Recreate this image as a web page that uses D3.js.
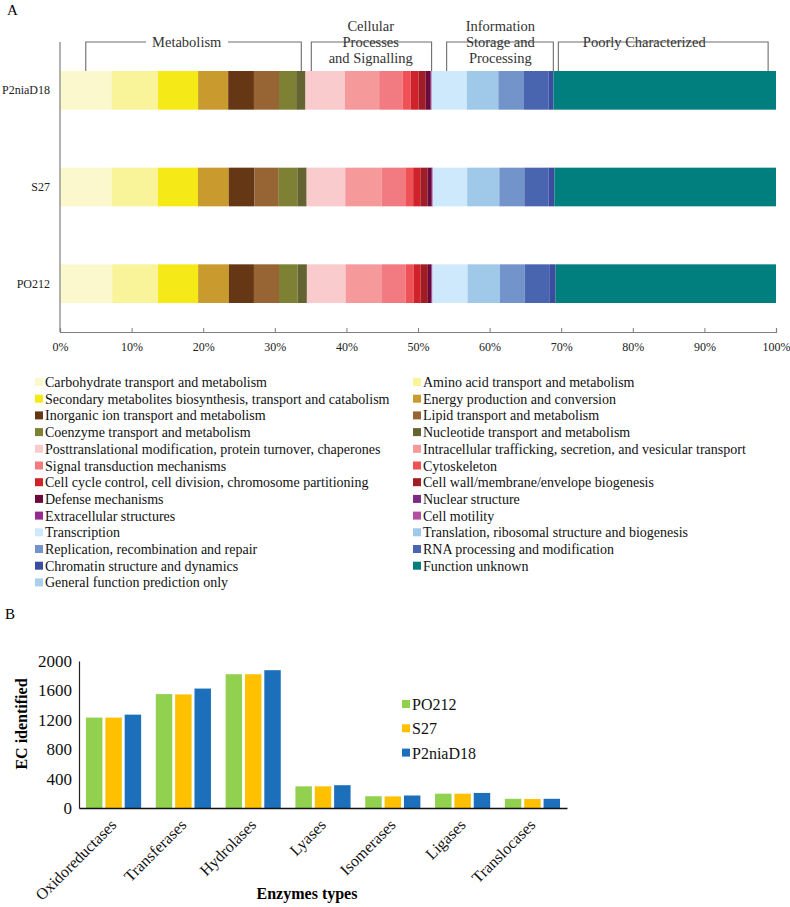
<!doctype html>
<html>
<head>
<script src="https://cdn.jsdelivr.net/npm/d3@7"></script>
<style>
  body { margin: 0; background: #fff; }
  svg, svg text { font-family: "Liberation Serif", "Tinos", "Times New Roman", serif; }
</style>
</head>
<body>
<svg id="chart" width="790" height="907"></svg>
<script>
// ---------- panel A data (percent of COG annotated genes) ----------
var strains = ["P2niaD18", "S27", "PO212"];
var cogCats = ["Carbohydrate transport and metabolism", "Amino acid transport and metabolism",
  "Secondary metabolites biosynthesis, transport and catabolism", "Energy production and conversion",
  "Inorganic ion transport and metabolism", "Lipid transport and metabolism",
  "Coenzyme transport and metabolism", "Nucleotide transport and metabolism",
  "Posttranslational modification, protein turnover, chaperones",
  "Intracellular trafficking, secretion, and vesicular transport",
  "Signal transduction mechanisms", "Cytoskeleton",
  "Cell cycle control, cell division, chromosome partitioning", "Cell wall/membrane/envelope biogenesis",
  "Defense mechanisms", "Nuclear structure", "Extracellular structures", "Cell motility",
  "Transcription", "Translation, ribosomal structure and biogenesis",
  "Replication, recombination and repair", "RNA processing and modification",
  "Chromatin structure and dynamics", "Function unknown", "General function prediction only"];
var cogColors = ["#fcf8cd", "#f9f399", "#f5ea17", "#c99a2e", "#653714", "#976433", "#7e8034", "#646432",
  "#f9cbcc", "#f5999b", "#f27a81", "#f05156", "#d0222a", "#a01d25", "#6b0a3c", "#7b2a86", "#952a90", "#b44ea3",
  "#cde9fb", "#a0c8e9", "#7294cb", "#4a65b0", "#3a4d9f", "#007f7e", "#a9cfee"];
var pctP2niaD18 = [7.2, 6.5, 5.6, 4.2, 3.6, 3.5, 2.4, 1.3, 5.5, 4.8, 3.3, 1.1, 1.1, 1.0, 0.7, 0.05, 0.05, 0.05, 4.9, 4.4, 3.5, 3.5, 0.7, 31.1, 0];
var pctS27      = [7.2, 6.5, 5.6, 4.3, 3.6, 3.4, 2.6, 1.3, 5.4, 5.1, 3.3, 1.1, 1.0, 1.0, 0.6, 0.05, 0.05, 0.05, 4.8, 4.5, 3.5, 3.4, 0.8, 31.0, 0];
var pctPO212    = [7.3, 6.4, 5.6, 4.3, 3.5, 3.5, 2.6, 1.3, 5.4, 5.0, 3.4, 1.1, 1.0, 1.0, 0.5, 0.05, 0.05, 0.05, 4.9, 4.5, 3.5, 3.5, 0.8, 30.8, 0];
var xTicksA = [0, 0.1, 0.2, 0.3, 0.4, 0.5, 0.6, 0.7, 0.8, 0.9, 1];

// bracket groups: start/end and label position in percent
var groups = [
  {lines: ["Metabolism"], from: 3.6, to: 33.7, at: 17.7},
  {lines: ["Cellular", "Processes", "and Signalling"], from: 35.1, to: 51.9, at: 43.4},
  {lines: ["Information", "Storage and", "Processing"], from: 54.0, to: 68.9, at: 61.5},
  {lines: ["Poorly Characterized"], from: 69.6, to: 98.9, at: 81.6}
];

// ---------- panel B data ----------
var enzymes = ["Oxidoreductases", "Transferases", "Hydrolases", "Lyases", "Isomerases", "Ligases", "Translocases"];
var ecStrains = ["PO212", "S27", "P2niaD18"];
var ecColors = ["#92d050", "#ffc000", "#1b6fbb"];
var ecPO212    = [1230, 1550, 1820, 295, 160, 195, 125];
var ecS27      = [1230, 1545, 1820, 295, 158, 195, 122];
var ecP2niaD18 = [1270, 1625, 1875, 310, 170, 205, 125];
var yTicksB = [0, 400, 800, 1200, 1600, 2000];

var FONT = "Liberation Serif, Tinos, Times New Roman, serif";
var svg = d3.select("#chart");

// ================= panel A =================
svg.append("text").attr("x", 7).attr("y", 15).attr("font-size", 15).text("A");

var rowsA = strains.map(function(s, i) {
  var vals = [pctP2niaD18, pctS27, pctPO212][i];
  var o = {strain: s};
  cogCats.forEach(function(c, j) { o[c] = vals[j]; });
  return o;
});
var stack = d3.stack().keys(cogCats).offset(d3.stackOffsetExpand);
var series = stack(rowsA);

var xA = d3.scaleLinear().domain([0, 1]).range([60, 776]);
var yA = d3.scaleBand().domain(strains).range([42, 332]).paddingInner(0.6).paddingOuter(0.3);

var gA = svg.append("g");
gA.selectAll("g.ser").data(series).enter().append("g")
  .attr("fill", function(d, i) { return cogColors[i]; })
  .selectAll("rect").data(function(d) { return d; }).enter().append("rect")
  .attr("x", function(d) { return xA(d[0]); })
  .attr("width", function(d) { return Math.max(0, xA(d[1]) - xA(d[0])); })
  .attr("y", function(d) { return yA(d.data.strain); })
  .attr("height", yA.bandwidth());

// axes
svg.append("line").attr("x1", 60).attr("x2", 60).attr("y1", 42).attr("y2", 332)
  .attr("stroke", "#7f7f7f").attr("stroke-width", 1.2);
var xAxisA = d3.axisBottom(xA).tickValues(xTicksA).tickFormat(d3.format(".0%")).tickSize(-4).tickPadding(10);
var gx = svg.append("g").attr("transform", "translate(0,332)").call(xAxisA).attr("font-family", FONT);
gx.selectAll("line").attr("stroke", "#7f7f7f");
gx.select("path.domain").attr("stroke", "#7f7f7f").attr("stroke-width", 1.2);
gx.selectAll("text").attr("font-size", 12).attr("fill", "#222");

svg.selectAll("text.strain").data(strains).enter().append("text")
  .attr("class", "strain")
  .attr("x", 50).attr("y", function(d) { return yA(d) + yA.bandwidth() / 2 + 4; })
  .attr("text-anchor", "end").attr("font-size", 12).attr("fill", "#222")
  .text(function(d) { return d; });

// group brackets
var gb = svg.append("g");
groups.forEach(function(g) {
  var x1 = xA(g.from / 100), x2 = xA(g.to / 100), xm = xA(g.at / 100);
  gb.append("path")
    .attr("d", "M" + x1 + ",71V42H" + x2 + "V71")
    .attr("fill", "none").attr("stroke", "#6d6d6d").attr("stroke-width", 1.1);
  var n = g.lines.length;
  var t = gb.append("text").attr("text-anchor", "middle").attr("font-size", 14.5).attr("fill", "#333");
  g.lines.forEach(function(l, i) {
    t.append("tspan").attr("x", xm).attr("y", 47 + (i - (n - 1) / 2) * 16).text(l);
  });
  var bb = t.node().getBBox();
  gb.insert("rect", "text").attr("x", bb.x - 6).attr("y", bb.y).attr("width", bb.width + 12)
    .attr("height", bb.height).attr("fill", "#fff");
});
gb.selectAll("text").raise();

// legend A (two columns)
var legA = svg.append("g");
cogCats.forEach(function(c, i) {
  var col = i % 2, row = Math.floor(i / 2);
  var lx = col === 0 ? 35 : 413, ly = 382 + row * 16.7;
  legA.append("rect").attr("x", lx).attr("y", ly - 4).attr("width", 8).attr("height", 8).attr("fill", cogColors[i]);
  legA.append("text").attr("x", lx + 10).attr("y", ly + 5).attr("font-size", 14).attr("fill", "#111").text(c);
});

// ================= panel B =================
svg.append("text").attr("x", 5).attr("y", 619).attr("font-size", 15).text("B");

var xB0 = d3.scaleBand().domain(enzymes).range([79, 567]).paddingInner(0.21).paddingOuter(0.1);
var xB1 = d3.scaleBand().domain(ecStrains).range([0, xB0.bandwidth()]).paddingInner(0.15);
var yB = d3.scaleLinear().domain([0, 2000]).range([808, 661]);
var ecVals = [ecPO212, ecS27, ecP2niaD18];

var gB = svg.append("g");
enzymes.forEach(function(e, i) {
  gB.selectAll(null).data(ecStrains).enter().append("rect")
    .attr("x", function(s) { return xB0(e) + xB1(s); })
    .attr("width", xB1.bandwidth())
    .attr("y", function(s, j) { return yB(ecVals[j][i]); })
    .attr("height", function(s, j) { return 808 - yB(ecVals[j][i]); })
    .attr("fill", function(s, j) { return ecColors[j]; });
});

var yAxisB = d3.axisLeft(yB).tickValues(yTicksB).tickFormat(d3.format("d")).tickSize(0).tickPadding(7);
var gyB = svg.append("g").attr("transform", "translate(79,0)").call(yAxisB).attr("font-family", FONT);
gyB.select("path.domain").attr("stroke", "#222").attr("stroke-width", 1.2);
gyB.selectAll("text").attr("font-size", 17).attr("fill", "#111");

var xAxisB = d3.axisBottom(xB0).tickSize(0).tickPadding(0);
var gxB = svg.append("g").attr("transform", "translate(0,808)").call(xAxisB).attr("font-family", FONT);
gxB.select("path.domain").attr("stroke", "#111").attr("stroke-width", 1.5);
gxB.selectAll("text").attr("font-size", 16).attr("fill", "#111")
  .attr("text-anchor", "end").attr("x", 0).attr("y", 0).attr("dy", "0.35em")
  .attr("transform", "translate(0,14) rotate(-45)");

svg.append("text").attr("transform", "translate(27,724) rotate(-90)")
  .attr("text-anchor", "middle").attr("font-size", 16).attr("font-weight", "bold").text("EC identified");
svg.append("text").attr("x", 307).attr("y", 899).attr("text-anchor", "middle")
  .attr("font-size", 16).attr("font-weight", "bold").text("Enzymes types");

var legB = svg.append("g");
ecStrains.forEach(function(s, i) {
  var ly = 704 + i * 24.3;
  legB.append("rect").attr("x", 402).attr("y", ly - 4).attr("width", 8).attr("height", 8).attr("fill", ecColors[i]);
  legB.append("text").attr("x", 412).attr("y", ly + 6).attr("font-size", 16).attr("fill", "#111").text(s);
});
</script>
</body>
</html>
